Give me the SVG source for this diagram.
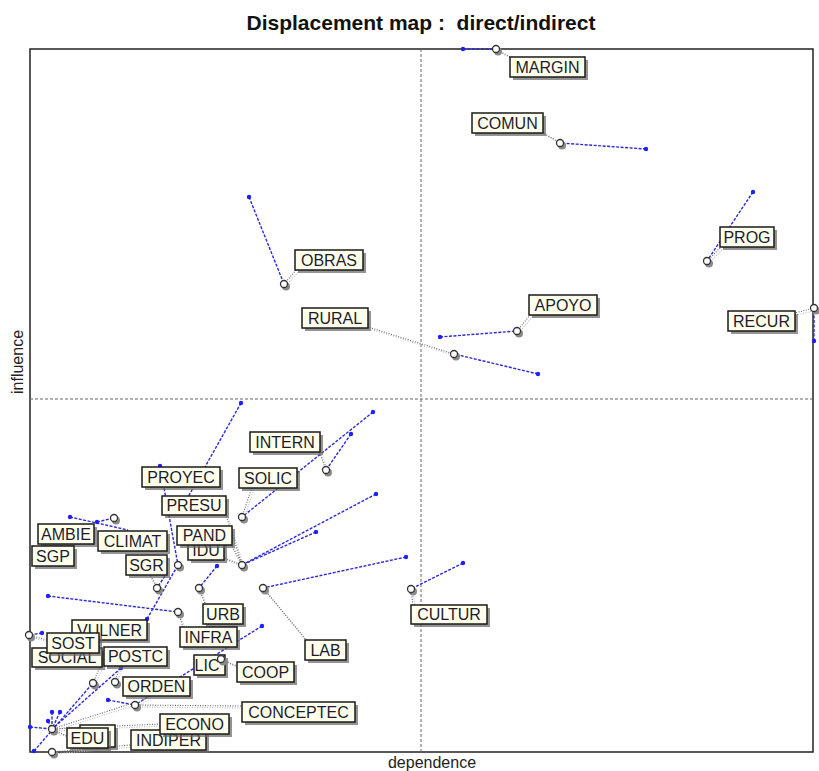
<svg xmlns="http://www.w3.org/2000/svg" width="819" height="771" viewBox="0 0 819 771">
<style>
.bg{fill:#fff}
.fr{fill:none;stroke:#222;stroke-width:1.5}
.ax{stroke:#666;stroke-width:1;stroke-dasharray:3 2}
.ttl{font-family:"Liberation Sans",Arial,sans-serif;font-size:21px;font-weight:bold;fill:#111;text-anchor:middle}
.axl{font-family:"Liberation Sans",Arial,sans-serif;font-size:16px;fill:#222;text-anchor:middle}
.bl{stroke:#2a2ad8;stroke-width:1.4;stroke-dasharray:3 1.5;fill:none}
.cn{stroke:#666;stroke-width:1.1;stroke-dasharray:1 1.5;fill:none}
.cs{stroke:#bbb;stroke-width:1.1;stroke-dasharray:1 1.5;fill:none}
.bd{fill:#1f1fff}
.cis{fill:#8a8a8a}
.ci{fill:#fff;stroke:#333;stroke-width:1.3}
.ls{fill:#666;opacity:.7}
.lb{fill:#ffffec;stroke:#1a1a1a;stroke-width:1.5}
.t{font-family:"Liberation Sans",Arial,sans-serif;font-size:16px;fill:#1c1c30;text-anchor:middle}
</style>
<rect class="bg" x="0" y="0" width="819" height="771"/>
<text class="ttl" x="421" y="30">Displacement map :&#160; direct/indirect</text>
<rect class="fr" x="30" y="49" width="783" height="703"/>
<line class="ax" x1="421" y1="49" x2="421" y2="752"/>
<line class="ax" x1="30" y1="399" x2="813" y2="399"/>
<text class="axl" x="432" y="768">dependence</text>
<text class="axl" transform="translate(23,362) rotate(-90)">influence</text>

<g id="connectors">
<line class="bl" x1="463" y1="49" x2="496" y2="49"/>
<line class="bl" x1="646" y1="149" x2="560" y2="143"/>
<line class="bl" x1="753" y1="192" x2="707" y2="261"/>
<line class="bl" x1="814" y1="341" x2="814" y2="308"/>
<line class="bl" x1="249" y1="197" x2="284" y2="284"/>
<line class="bl" x1="538" y1="374" x2="454" y2="354"/>
<line class="bl" x1="440" y1="337" x2="517" y2="331"/>
<line class="bl" x1="351" y1="434" x2="326" y2="470"/>
<line class="bl" x1="373" y1="412" x2="242" y2="517"/>
<line class="bl" x1="241" y1="403" x2="183" y2="506"/>
<line class="bl" x1="160" y1="466" x2="178" y2="565"/>
<line class="bl" x1="376" y1="494" x2="242" y2="565"/>
<line class="bl" x1="316" y1="532" x2="242" y2="565"/>
<line class="bl" x1="70" y1="517" x2="128" y2="530"/>
<line class="bl" x1="97" y1="522" x2="114" y2="518"/>
<line class="bl" x1="165" y1="576" x2="157" y2="588"/>
<line class="bl" x1="147" y1="619" x2="178" y2="565"/>
<line class="bl" x1="463" y1="563" x2="411" y2="589"/>
<line class="bl" x1="406" y1="557" x2="263" y2="588"/>
<line class="bl" x1="217" y1="566" x2="199" y2="588"/>
<line class="bl" x1="48" y1="596" x2="178" y2="612"/>
<line class="bl" x1="42" y1="633" x2="29" y2="635"/>
<line class="bl" x1="262" y1="626" x2="135" y2="705"/>
<line class="bl" x1="108" y1="700" x2="135" y2="705"/>
<line class="bl" x1="34" y1="751" x2="93" y2="683"/>
<line class="bl" x1="121" y1="668" x2="52" y2="729"/>
<line class="bl" x1="30" y1="727" x2="52" y2="729"/>
<line class="bl" x1="48" y1="721" x2="52" y2="729"/>
<line class="bl" x1="52" y1="712" x2="52" y2="729"/>
<line class="bl" x1="60" y1="712" x2="52" y2="729"/>
<g transform="translate(2,2)">
<line class="cs" x1="496" y1="49" x2="512" y2="58"/>
<line class="cs" x1="560" y1="143" x2="542" y2="132"/>
<line class="cs" x1="707" y1="261" x2="722" y2="246"/>
<line class="cs" x1="814" y1="308" x2="795" y2="313"/>
<line class="cs" x1="284" y1="284" x2="297" y2="269"/>
<line class="cs" x1="454" y1="354" x2="368" y2="327"/>
<line class="cs" x1="517" y1="331" x2="531" y2="314"/>
<line class="cs" x1="326" y1="470" x2="319" y2="451"/>
<line class="cs" x1="242" y1="517" x2="252" y2="487"/>
<line class="cs" x1="242" y1="565" x2="226" y2="515"/>
<line class="cs" x1="242" y1="565" x2="230" y2="543"/>
<line class="cs" x1="242" y1="565" x2="224" y2="558"/>
<line class="cs" x1="157" y1="588" x2="150" y2="575"/>
<line class="cs" x1="411" y1="589" x2="413" y2="605"/>
<line class="cs" x1="263" y1="588" x2="307" y2="641"/>
<line class="cs" x1="199" y1="588" x2="205" y2="604"/>
<line class="cs" x1="178" y1="612" x2="183" y2="627"/>
<line class="cs" x1="29" y1="635" x2="47" y2="640"/>
<line class="cs" x1="93" y1="683" x2="100" y2="667"/>
<line class="cs" x1="115" y1="682" x2="120" y2="666"/>
<line class="cs" x1="221" y1="659" x2="237" y2="666"/>
<line class="cs" x1="135" y1="705" x2="150" y2="696"/>
<line class="cs" x1="135" y1="705" x2="242" y2="706"/>
<line class="cs" x1="52" y1="729" x2="130" y2="704"/>
<line class="cs" x1="52" y1="729" x2="160" y2="724"/>
<line class="cs" x1="52" y1="729" x2="67" y2="736"/>
<line class="cs" x1="52" y1="752" x2="131" y2="745"/>
</g>
<line class="cn" x1="496" y1="49" x2="512" y2="58"/>
<line class="cn" x1="560" y1="143" x2="542" y2="132"/>
<line class="cn" x1="707" y1="261" x2="722" y2="246"/>
<line class="cn" x1="814" y1="308" x2="795" y2="313"/>
<line class="cn" x1="284" y1="284" x2="297" y2="269"/>
<line class="cn" x1="454" y1="354" x2="368" y2="327"/>
<line class="cn" x1="517" y1="331" x2="531" y2="314"/>
<line class="cn" x1="326" y1="470" x2="319" y2="451"/>
<line class="cn" x1="242" y1="517" x2="252" y2="487"/>
<line class="cn" x1="242" y1="565" x2="226" y2="515"/>
<line class="cn" x1="242" y1="565" x2="230" y2="543"/>
<line class="cn" x1="242" y1="565" x2="224" y2="558"/>
<line class="cn" x1="157" y1="588" x2="150" y2="575"/>
<line class="cn" x1="411" y1="589" x2="413" y2="605"/>
<line class="cn" x1="263" y1="588" x2="307" y2="641"/>
<line class="cn" x1="199" y1="588" x2="205" y2="604"/>
<line class="cn" x1="178" y1="612" x2="183" y2="627"/>
<line class="cn" x1="29" y1="635" x2="47" y2="640"/>
<line class="cn" x1="93" y1="683" x2="100" y2="667"/>
<line class="cn" x1="115" y1="682" x2="120" y2="666"/>
<line class="cn" x1="221" y1="659" x2="237" y2="666"/>
<line class="cn" x1="135" y1="705" x2="150" y2="696"/>
<line class="cn" x1="135" y1="705" x2="242" y2="706"/>
<line class="cn" x1="52" y1="729" x2="130" y2="704"/>
<line class="cn" x1="52" y1="729" x2="160" y2="724"/>
<line class="cn" x1="52" y1="729" x2="67" y2="736"/>
<line class="cn" x1="52" y1="752" x2="131" y2="745"/>
</g>

<defs>
<g id="cir"><circle class="cis" cx="2" cy="2.5" r="4"/><circle class="ci" cx="0" cy="0" r="3.5"/></g>
</defs>

<g id="MARGIN"><circle class="bd" cx="463" cy="49" r="2.2"/><use href="#cir" x="496" y="49"/><rect class="ls" x="513" y="60" width="75" height="20"/><rect class="lb" x="510" y="57" width="75" height="20"/><text class="t" x="547.5" y="72.5">MARGIN</text></g>
<g id="COMUN"><circle class="bd" cx="646" cy="149" r="2.2"/><use href="#cir" x="560" y="143"/><rect class="ls" x="475" y="116" width="71" height="20"/><rect class="lb" x="472" y="113" width="71" height="20"/><text class="t" x="507.5" y="128.5">COMUN</text></g>
<g id="PROG"><circle class="bd" cx="753" cy="192" r="2.2"/><use href="#cir" x="707" y="261"/><rect class="ls" x="723" y="230" width="54" height="20"/><rect class="lb" x="720" y="227" width="54" height="20"/><text class="t" x="747" y="242.5">PROG</text></g>
<g id="RECUR"><circle class="bd" cx="814" cy="341" r="2.2"/><use href="#cir" x="814" y="308"/><rect class="ls" x="731" y="314" width="67" height="20"/><rect class="lb" x="728" y="311" width="67" height="20"/><text class="t" x="761.5" y="326.5">RECUR</text></g>
<g id="OBRAS"><circle class="bd" cx="249" cy="197" r="2.2"/><use href="#cir" x="284" y="284"/><rect class="ls" x="298" y="253" width="68" height="20"/><rect class="lb" x="295" y="250" width="68" height="20"/><text class="t" x="329" y="265.5">OBRAS</text></g>
<g id="RURAL"><circle class="bd" cx="538" cy="374" r="2.2"/><use href="#cir" x="454" y="354"/><rect class="ls" x="305" y="311" width="66" height="20"/><rect class="lb" x="302" y="308" width="66" height="20"/><text class="t" x="335" y="323.5">RURAL</text></g>
<g id="APOYO"><circle class="bd" cx="440" cy="337" r="2.2"/><use href="#cir" x="517" y="331"/><rect class="ls" x="532" y="298" width="68" height="20"/><rect class="lb" x="529" y="295" width="68" height="20"/><text class="t" x="563" y="310.5">APOYO</text></g>
<g id="INTERN"><circle class="bd" cx="351" cy="434" r="2.2"/><use href="#cir" x="326" y="470"/><rect class="ls" x="253" y="435" width="70" height="20"/><rect class="lb" x="250" y="432" width="70" height="20"/><text class="t" x="285" y="447.5">INTERN</text></g>
<g id="SOLIC"><circle class="bd" cx="373" cy="412" r="2.2"/><use href="#cir" x="242" y="517"/><rect class="ls" x="242" y="471" width="58" height="20"/><rect class="lb" x="239" y="468" width="58" height="20"/><text class="t" x="268" y="483.5">SOLIC</text></g>
<g id="PROYEC"><circle class="bd" cx="241" cy="403" r="2.2"/><circle class="bd" cx="160" cy="466" r="2.2"/><rect class="ls" x="145" y="470" width="78" height="20"/><rect class="lb" x="142" y="467" width="78" height="20"/><text class="t" x="181" y="482.5">PROYEC</text></g>
<g id="PRESU"><circle class="bd" cx="316" cy="532" r="2.2"/><rect class="ls" x="165" y="499" width="64" height="19"/><rect class="lb" x="162" y="496" width="64" height="19"/><text class="t" x="194" y="511">PRESU</text></g>
<g id="IDU"><rect class="ls" x="191" y="544" width="36" height="19"/><rect class="lb" x="188" y="541" width="36" height="19"/><text class="t" x="206" y="556">IDU</text></g>
<g id="PAND"><circle class="bd" cx="376" cy="494" r="2.2"/><use href="#cir" x="242" y="565"/><rect class="ls" x="180" y="529" width="55" height="19"/><rect class="lb" x="177" y="526" width="55" height="19"/><text class="t" x="204.5" y="541">PAND</text></g>
<g id="AMBIE"><circle class="bd" cx="70" cy="517" r="2.2"/><rect class="ls" x="41" y="527" width="56" height="20"/><rect class="lb" x="38" y="524" width="56" height="20"/><text class="t" x="66" y="539.5">AMBIE</text></g>
<g id="CLIMAT"><circle class="bd" cx="97" cy="522" r="2.2"/><use href="#cir" x="114" y="518"/><rect class="ls" x="101" y="534" width="69" height="20"/><rect class="lb" x="98" y="531" width="69" height="20"/><text class="t" x="132.5" y="546.5">CLIMAT</text></g>
<g id="SGP"><rect class="ls" x="35" y="549" width="42" height="20"/><rect class="lb" x="32" y="546" width="42" height="20"/><text class="t" x="53" y="561.5">SGP</text></g>
<g id="SGR"><use href="#cir" x="178" y="565"/><use href="#cir" x="157" y="588"/><rect class="ls" x="129" y="558" width="41" height="20"/><rect class="lb" x="126" y="555" width="41" height="20"/><text class="t" x="146.5" y="570.5">SGR</text></g>
<g id="CULTUR"><circle class="bd" cx="463" cy="563" r="2.2"/><use href="#cir" x="411" y="589"/><rect class="ls" x="414" y="608" width="76" height="19"/><rect class="lb" x="411" y="605" width="76" height="19"/><text class="t" x="449" y="620">CULTUR</text></g>
<g id="LAB"><circle class="bd" cx="406" cy="557" r="2.2"/><use href="#cir" x="263" y="588"/><rect class="ls" x="308" y="643" width="41" height="20"/><rect class="lb" x="305" y="640" width="41" height="20"/><text class="t" x="325.5" y="655.5">LAB</text></g>
<g id="URB"><circle class="bd" cx="217" cy="566" r="2.2"/><use href="#cir" x="199" y="588"/><rect class="ls" x="206" y="607" width="40" height="20"/><rect class="lb" x="203" y="604" width="40" height="20"/><text class="t" x="223" y="619.5">URB</text></g>
<g id="INFRA"><circle class="bd" cx="48" cy="596" r="2.2"/><use href="#cir" x="178" y="612"/><rect class="ls" x="183" y="630" width="57" height="20"/><rect class="lb" x="180" y="627" width="57" height="20"/><text class="t" x="208.5" y="642.5">INFRA</text></g>
<g id="VULNER"><circle class="bd" cx="147" cy="619" r="2.2"/><rect class="ls" x="75" y="623" width="75" height="20"/><rect class="lb" x="72" y="620" width="75" height="20"/><text class="t" x="109.5" y="635.5">VULNER</text></g>
<g id="SOCIAL"><circle class="bd" cx="34" cy="751" r="2.2"/><use href="#cir" x="93" y="683"/><rect class="ls" x="35" y="651" width="70" height="19"/><rect class="lb" x="32" y="648" width="70" height="19"/><text class="t" x="67" y="663">SOCIAL</text></g>
<g id="SOST"><circle class="bd" cx="42" cy="633" r="2.2"/><use href="#cir" x="29" y="635"/><rect class="ls" x="50" y="636" width="52" height="20"/><rect class="lb" x="47" y="633" width="52" height="20"/><text class="t" x="73" y="648.5">SOST</text></g>
<g id="POSTC"><circle class="bd" cx="121" cy="668" r="2.2"/><use href="#cir" x="115" y="682"/><rect class="ls" x="107" y="650" width="63" height="19"/><rect class="lb" x="104" y="647" width="63" height="19"/><text class="t" x="135.5" y="662">POSTC</text></g>
<g id="LIC"><circle class="bd" cx="262" cy="626" r="2.2"/><rect class="ls" x="197" y="658" width="31" height="20"/><rect class="lb" x="194" y="655" width="31" height="20"/><text class="t" x="207" y="670.5">LIC</text><use href="#cir" x="221" y="659"/></g>
<g id="COOP"><rect class="ls" x="240" y="665" width="57" height="20"/><rect class="lb" x="237" y="662" width="57" height="20"/><text class="t" x="265.5" y="677.5">COOP</text></g>
<g id="ORDEN"><circle class="bd" cx="108" cy="700" r="2.2"/><use href="#cir" x="135" y="705"/><rect class="ls" x="126" y="680" width="67" height="19"/><rect class="lb" x="123" y="677" width="67" height="19"/><text class="t" x="156.5" y="692">ORDEN</text></g>
<g id="CONCEPTEC"><circle class="bd" cx="60" cy="712" r="2.2"/><rect class="ls" x="245" y="705" width="113" height="20"/><rect class="lb" x="242" y="702" width="113" height="20"/><text class="t" x="298.5" y="717.5">CONCEPTEC</text></g>
<g id="INDIPER"><circle class="bd" cx="52" cy="712" r="2.2"/><use href="#cir" x="52" y="752"/><rect class="ls" x="134" y="733" width="75" height="20"/><rect class="lb" x="131" y="730" width="75" height="20"/><text class="t" x="168.5" y="745.5">INDIPER</text></g>
<g id="ECONO"><circle class="bd" cx="48" cy="721" r="2.2"/><rect class="ls" x="163" y="717" width="69" height="20"/><rect class="lb" x="160" y="714" width="69" height="20"/><text class="t" x="194.5" y="729.5">ECONO</text></g>
<g id="EDU"><circle class="bd" cx="30" cy="727" r="2.2"/><use href="#cir" x="52" y="729"/><rect class="ls" x="83" y="728" width="35" height="22"/><rect class="lb" x="80" y="725" width="35" height="22"/><rect class="ls" x="70" y="731" width="41" height="20"/><rect class="lb" x="67" y="728" width="41" height="20"/><text class="t" x="87.5" y="743.5">EDU</text></g>
</svg>
